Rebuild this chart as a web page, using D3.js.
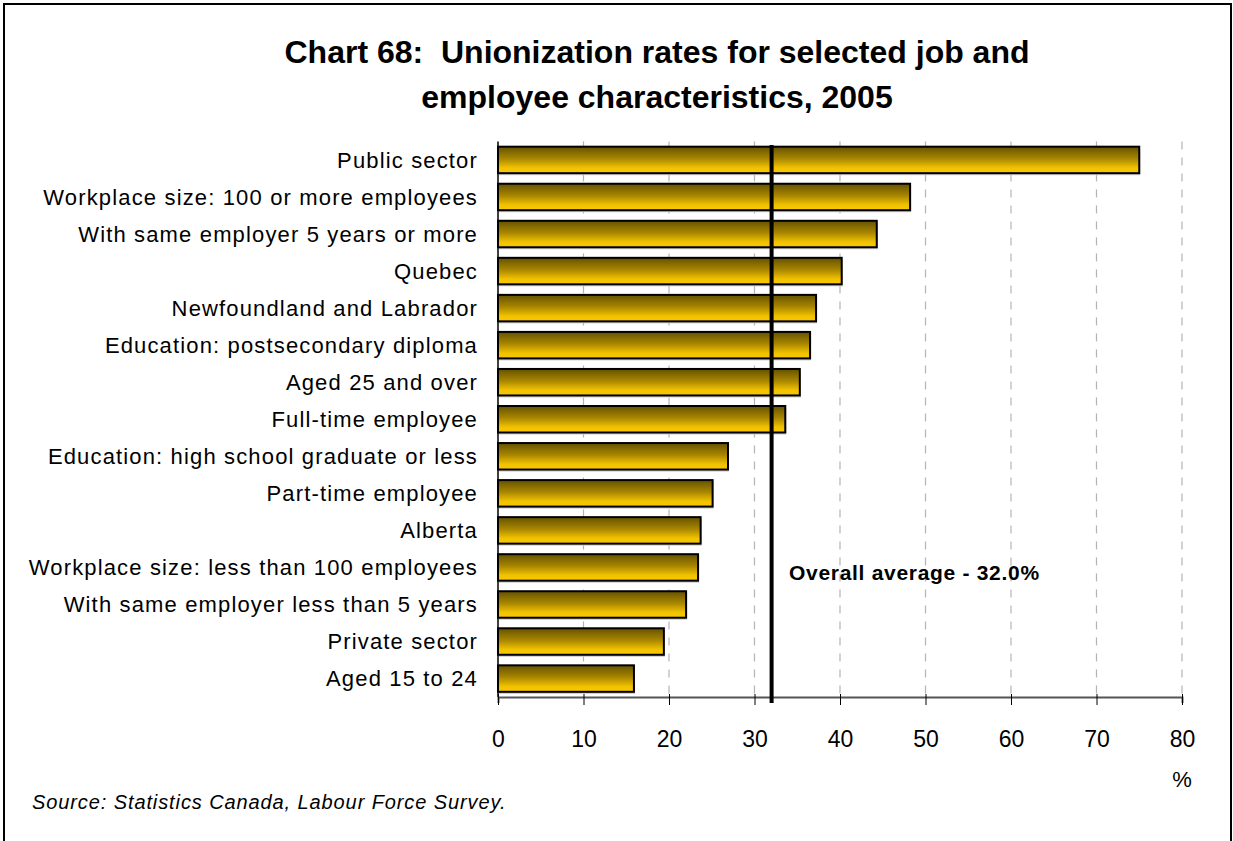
<!DOCTYPE html>
<html>
<head>
<meta charset="utf-8">
<script src="https://cdn.jsdelivr.net/npm/d3@7"></script>
<style>
  html, body { margin: 0; padding: 0; background: #fff; }
  svg { display: block; font-family: "Liberation Sans", Arial, sans-serif; }
</style>
</head>
<body>
<svg id="chart" width="1233" height="841"></svg>
<script>
// Unionization rates (%) by job and employee characteristic, 2005
const categories = [
  "Public sector",
  "Workplace size: 100 or more employees",
  "With same employer 5 years or more",
  "Quebec",
  "Newfoundland and Labrador",
  "Education: postsecondary diploma",
  "Aged 25 and over",
  "Full-time employee",
  "Education: high school graduate or less",
  "Part-time employee",
  "Alberta",
  "Workplace size: less than 100 employees",
  "With same employer less than 5 years",
  "Private sector",
  "Aged 15 to 24"
];
const rates = [75.0, 48.2, 44.3, 40.2, 37.2, 36.5, 35.3, 33.6, 26.9, 25.1, 23.7, 23.4, 22.0, 19.4, 15.9];
const overallAverage = 32.0;
const xTicks = [0, 10, 20, 30, 40, 50, 60, 70, 80];

const svg = d3.select("#chart");
const W = 1233, H = 841;

// outer frame
svg.append("rect")
  .attr("x", 4).attr("y", 4).attr("width", W - 6).attr("height", H + 10)
  .attr("fill", "none").attr("stroke", "#000").attr("stroke-width", 2);

// title
const title = svg.append("text")
  .attr("text-anchor", "middle")
  .attr("font-size", 32).attr("font-weight", "bold").attr("fill", "#000");
title.append("tspan").attr("x", 657).attr("y", 63)
  .text("Chart 68:\u00a0\u00a0Unionization rates for selected job and");
title.append("tspan").attr("x", 657).attr("y", 108)
  .text("employee characteristics, 2005");

const plot = { left: 498, right: 1182, top: 141.5, bottom: 697 };

const x = d3.scaleLinear().domain([0, 80]).range([plot.left, plot.right]);
const y = d3.scaleBand().domain(categories).range([plot.top, plot.bottom]).paddingInner(0.285).paddingOuter(0.14);

// bar fill: dark olive at top fading to gold
const defs = svg.append("defs");
const grad = defs.append("linearGradient").attr("id", "barFill")
  .attr("x1", 0).attr("y1", 0).attr("x2", 0).attr("y2", 1);
grad.append("stop").attr("offset", "0%").attr("stop-color", "#665200");
grad.append("stop").attr("offset", "45%").attr("stop-color", "#a88600");
grad.append("stop").attr("offset", "80%").attr("stop-color", "#f2c200");
grad.append("stop").attr("offset", "100%").attr("stop-color", "#f9c800");

// dashed vertical gridlines
svg.append("g").selectAll("line")
  .data(xTicks.filter(d => d > 0))
  .join("line")
  .attr("x1", d => x(d)).attr("x2", d => x(d))
  .attr("y1", plot.top).attr("y2", plot.bottom)
  .attr("stroke", "#b4b4b4").attr("stroke-width", 1.2)
  .attr("stroke-dasharray", "8,8");

// bar shadows
svg.append("g").selectAll("rect")
  .data(rates)
  .join("rect")
  .attr("x", x(0) + 1)
  .attr("y", (d, i) => y(categories[i]) + 2)
  .attr("width", d => x(d) - x(0))
  .attr("height", y.bandwidth())
  .attr("fill", "#c8c8c8");

// bars
svg.append("g").selectAll("rect")
  .data(rates)
  .join("rect")
  .attr("x", x(0))
  .attr("y", (d, i) => y(categories[i]))
  .attr("width", d => x(d) - x(0))
  .attr("height", y.bandwidth())
  .attr("fill", "url(#barFill)")
  .attr("stroke", "#000").attr("stroke-width", 2);

// category labels
svg.append("g").selectAll("text")
  .data(categories)
  .join("text")
  .attr("x", 478)
  .attr("y", d => y(d) + y.bandwidth() / 2)
  .attr("dy", "0.36em")
  .attr("text-anchor", "end")
  .attr("font-size", 22)
  .attr("letter-spacing", 1.15)
  .attr("fill", "#000")
  .text(d => d);

// y axis line
svg.append("line")
  .attr("x1", plot.left).attr("x2", plot.left)
  .attr("y1", plot.top).attr("y2", plot.bottom)
  .attr("stroke", "#000").attr("stroke-width", 1.5);

// x axis
const xAxis = d3.axisBottom(x).tickValues(xTicks).tickSize(6).tickPadding(28);
const gx = svg.append("g").attr("transform", `translate(0,${plot.bottom})`).call(xAxis);
gx.select(".domain").attr("stroke", "#555").attr("stroke-width", 2);
gx.selectAll(".tick line").attr("stroke", "#000").attr("stroke-width", 1).attr("y1", -3).attr("y2", 8);
gx.selectAll(".tick text")
  .attr("font-size", 23).attr("fill", "#000")
  .attr("font-family", "Liberation Sans, Arial, sans-serif");

// overall average line
svg.append("line")
  .attr("x1", x(overallAverage)).attr("x2", x(overallAverage))
  .attr("y1", 145).attr("y2", 703)
  .attr("stroke", "#000").attr("stroke-width", 4);

svg.append("text")
  .attr("x", 789).attr("y", 580)
  .attr("font-size", 21).attr("font-weight", "bold").attr("letter-spacing", 0.7).attr("fill", "#000")
  .text(`Overall average - ${overallAverage.toFixed(1)}%`);

// unit label
svg.append("text")
  .attr("x", x(80)).attr("y", 787)
  .attr("text-anchor", "middle")
  .attr("font-size", 22).attr("fill", "#000")
  .text("%");

// source
svg.append("text")
  .attr("x", 32).attr("y", 809)
  .attr("font-size", 20).attr("font-style", "italic").attr("letter-spacing", 0.9).attr("fill", "#000")
  .text("Source: Statistics Canada, Labour Force Survey.");
</script>
</body>
</html>
